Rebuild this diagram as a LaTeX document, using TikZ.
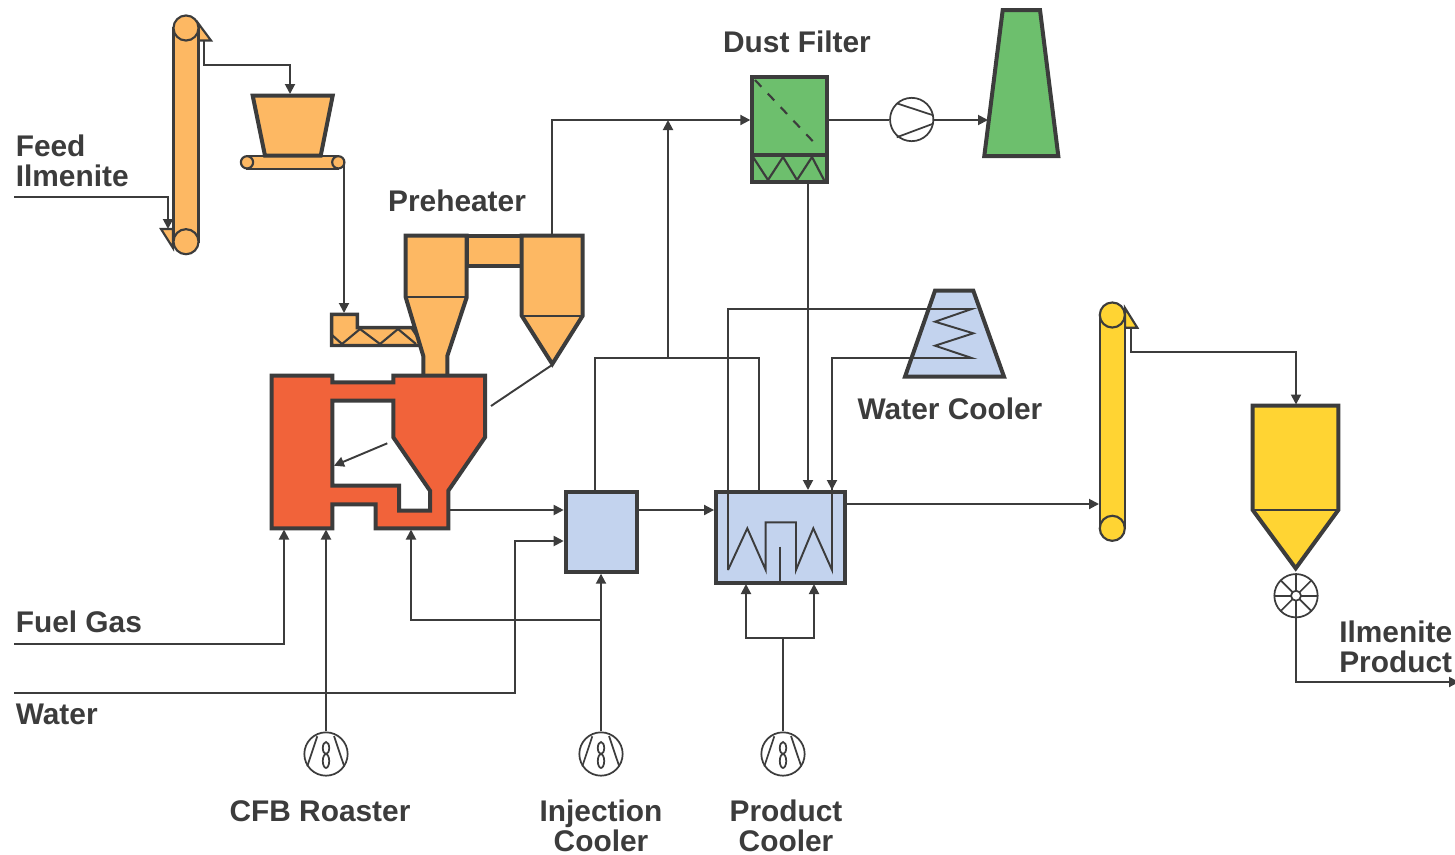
\documentclass[tikz,border=0pt]{standalone}
\usepackage{fontspec}
\setmainfont{Liberation Sans}
\usetikzlibrary{arrows.meta}
\definecolor{inkgray}{HTML}{3C3C3C}
\definecolor{oreorange}{HTML}{FDB863}
\definecolor{roastred}{HTML}{F1633A}
\definecolor{filtergreen}{HTML}{6DBF6D}
\definecolor{coolblue}{HTML}{C3D3EE}
\definecolor{productyellow}{HTML}{FFD433}
\begin{document}
\begin{tikzpicture}[x=0.75pt,y=-0.75pt,
    flowline/.style={draw=inkgray, line width=1.45pt},
    flowarrow/.style={flowline, -{Triangle[length=7.5pt,width=7.5pt]}},
    vessel/.style={draw=inkgray, line width=3pt, line join=miter},
    belt/.style={draw=inkgray, line width=1.6pt},
    fanring/.style={circle, draw=inkgray, fill=white, line width=1.3pt, minimum size=32.5pt, inner sep=0pt},
    tag/.style={font=\fontsize{22.4}{22.5}\selectfont\bfseries, text=inkgray, inner sep=0pt}
]
    \useasboundingbox (0,0) rectangle (1455,854);
    % Left elevator and feed bin
    \filldraw[belt, fill=oreorange] (198,23) -- (211,40.5) -- (198,40.5) -- cycle;
    \filldraw[belt, fill=oreorange] (161,229) -- (173,229) -- (173,248) -- cycle;
    \filldraw[belt, fill=oreorange] (173.5,28) rectangle (198.5,241.7);
    \filldraw[belt, fill=oreorange] (186,28) circle[radius=9.4pt];
    \filldraw[belt, fill=oreorange] (186,241.7) circle[radius=9.4pt];
    \filldraw[belt, fill=oreorange] (247,156) rectangle (338.3,168.7);
    \filldraw[belt, fill=oreorange] (247,162.3) circle[radius=4.6pt];
    \filldraw[belt, fill=oreorange] (338.3,162.3) circle[radius=4.6pt];
    \filldraw[vessel, fill=oreorange] (252.7,95.7) -- (332.7,95.7) -- (320.7,155.7) -- (265,155.7) -- cycle;
    % Screw feeder
    \filldraw[vessel, fill=oreorange, line width=2.6pt] (331.7,314.3) -- (357.3,314.3) -- (357.3,327.7) -- (412,327.7) -- (424,345.5) -- (331.7,345.5) -- cycle;
    \draw[belt] (332,335) -- (342,344) -- (360,329) -- (380,344) -- (398,329) -- (416,344);
    % Preheater cyclones
    \filldraw[vessel, fill=oreorange] (466.7,235.7) -- (521.7,235.7) -- (521.7,265.7) -- (466.7,265.7) -- cycle;
    \filldraw[vessel, fill=oreorange] (405.7,235.7) -- (466.7,235.7) -- (466.7,297.3) -- (447.3,356) -- (447.3,376) -- (423.3,376) -- (423.3,356) -- (405.7,297.3) -- cycle;
    \filldraw[vessel, fill=oreorange] (521.7,235.7) -- (582.7,235.7) -- (582.7,315.7) -- (552.3,364) -- (521.7,315.7) -- cycle;
    \draw[belt] (405.7,297.3) -- (466.7,297.3);
    \draw[belt] (521.7,315.7) -- (582.7,315.7);
    % CFB roaster, with the open space cut out
    \filldraw[vessel, fill=roastred, even odd rule] (271.7,375.7) -- (332.3,375.7) -- (332.3,382.3) -- (393.3,382.3) -- (393.3,375.7) -- (485,375.7) -- (485,437.3) -- (448.3,490.7) -- (448.3,528.3) -- (375.7,528.3) -- (375.7,504.3) -- (332.3,504.3) -- (332.3,528.3) -- (271.7,528.3) -- cycle
        (332.3,400.7) -- (393.3,400.7) -- (393.3,437.3) -- (430,490.7) -- (430,510.7) -- (399,510.7) -- (399,485.7) -- (332.3,485.7) -- cycle;
    % Dust filter, blower and stack
    \node[vessel, fill=filtergreen, minimum width=55.8pt, minimum height=78.8pt, inner sep=0pt] (filterbox) at (789.5,129.2) {};
    \draw[vessel] (752.3,155) -- (826.7,155);
    \draw[belt] (753,157) -- (768,180) -- (783,157) -- (797,180) -- (812,157) -- (824,180);
    \draw[inkgray, line width=1.6pt, dash pattern=on 7pt off 7pt] (755,80) -- (818,146.7);
    \filldraw[vessel, fill=filtergreen] (1002.7,10) -- (1040,10) -- (1058.3,156) -- (984.3,156) -- cycle;
    \node[fanring] (blower) at (911.7,119.5) {};
    \draw[inkgray, line width=1.3pt] (896.7,103.3) -- (932.3,115) (896.7,137.3) -- (932.3,124);
    % Coolers
    \node[vessel, fill=coolblue, minimum width=53.7pt, minimum height=60pt, inner sep=0pt] (injectbox) at (601.5,531.7) {};
    \node[vessel, fill=coolblue, minimum width=96.5pt, minimum height=68.7pt, inner sep=0pt] (coolerbox) at (780.4,537.5) {};
    \filldraw[vessel, fill=coolblue] (935,290.7) -- (973.3,290.7) -- (1004,376.7) -- (905,376.7) -- cycle;
    % Right elevator, silo and discharge wheel
    \filldraw[belt, fill=productyellow] (1125,308) -- (1137.3,327.7) -- (1125,327.7) -- cycle;
    \filldraw[belt, fill=productyellow] (1100,315) rectangle (1125,528.3);
    \filldraw[belt, fill=productyellow] (1112.3,315) circle[radius=9.4pt];
    \filldraw[belt, fill=productyellow] (1112.3,528.3) circle[radius=9.4pt];
    \filldraw[vessel, fill=productyellow] (1252.7,405.7) -- (1338.3,405.7) -- (1338.3,510) -- (1295.7,568.3) -- (1252.7,510) -- cycle;
    \draw[belt] (1252.7,510) -- (1338.3,510);
    \node[fanring] (wheel) at (1296,595.7) {};
    \begin{scope}[shift={(wheel.center)}]
        \foreach \a in {0,45,...,315} {
            \draw[inkgray, line width=1.3pt] (\a:3.75pt) -- (\a:16.2pt);
        }
        \draw[inkgray, line width=1.3pt] (0,0) circle[radius=3.75pt];
    \end{scope}
    % Air fans
    \node[fanring] (roasterfan) at (326,754) {};
    \node[fanring] (injectfan) at (601,754) {};
    \node[fanring] (productfan) at (783,754) {};
    \foreach \fan in {roasterfan,injectfan,productfan} {
        \begin{scope}[shift={(\fan.center)}]
            \draw[inkgray, line width=1.3pt] (-8.7,-17.7) -- (-18.7,12.3) (8,-18) -- (18,11.7);
            \draw[inkgray, line width=1.3pt] (0,-6) ellipse[x radius=2.4pt, y radius=4.5pt];
            \draw[inkgray, line width=1.3pt] (0,7) ellipse[x radius=2.4pt, y radius=5.2pt];
        \end{scope}
    }
    % Connector end points
    \coordinate (feedin) at (14,197);
    \coordinate (feedchute) at (168,229);
    \coordinate (liftout) at (204,40.5);
    \coordinate (bintop) at (290,94);
    \coordinate (beltout) at (344,162);
    \coordinate (screwtop) at (344,313);
    \coordinate (cycloneout) at (552,234);
    \coordinate (gasline) at (552,120);
    \coordinate (returnup) at (668,358);
    \coordinate (returnmid) at (668,120);
    \coordinate (filterout) at (826.7,120);
    \coordinate (stackin) at (988,120);
    \coordinate (filterdrop) at (808,182);
    \coordinate (dropin) at (808,490);
    \coordinate (injectup) at (595,491);
    \coordinate (coolerup) at (759,491);
    \coordinate (coilstart) at (728,570);
    \coordinate (coilcorner) at (728,309);
    \coordinate (coilback) at (971.7,358);
    \coordinate (coilin) at (832,490);
    \coordinate (solidsout) at (491,406);
    \coordinate (solidsin) at (552,365);
    \coordinate (loopstart) at (387.3,443.3);
    \coordinate (loopend) at (334,465.7);
    \coordinate (roasterout) at (449,510);
    \coordinate (injectout) at (638,510);
    \coordinate (waterin) at (14,693);
    \coordinate (waterbend) at (515,541);
    \coordinate (fuelin) at (14,644);
    \coordinate (fuelend) at (284,529.5);
    \coordinate (roasterair) at (326,529.5);
    \coordinate (branchair) at (601,620);
    \coordinate (branchend) at (411,529.5);
    \coordinate (splitair) at (783,638);
    \coordinate (leftair) at (746,584);
    \coordinate (rightair) at (814,584);
    \coordinate (productout) at (845,504);
    \coordinate (liftin) at (1099,504);
    \coordinate (liftouttwo) at (1131,327.7);
    \coordinate (silotop) at (1296,404.5);
    \coordinate (productend) at (1459,682);
    % Connectors
    \draw[flowarrow] (feedin) -| (feedchute);
    \draw[flowarrow] (liftout) |- (290,65) -- (bintop);
    \draw[flowarrow] (beltout) -- (screwtop);
    \draw[flowarrow] (cycloneout) |- (gasline -| filterbox.west);
    \draw[flowarrow] (returnup) -- (returnmid);
    \draw[flowline] (injectup) |- (returnup) -| (coolerup);
    \draw[flowline] (filterout) -- (filterout -| blower.west);
    \draw[flowarrow] (filterout -| blower.east) -- (stackin);
    \draw[flowarrow] (filterdrop) -- (dropin);
    \draw[flowline] (solidsout) -- (solidsin);
    \draw[flowarrow] (loopstart) -- (loopend);
    \draw[flowarrow] (roasterout) -- (roasterout -| injectbox.west);
    \draw[flowarrow] (injectout) -- (injectout -| coolerbox.west);
    \draw[flowarrow] (waterin) -| (waterbend) -- (waterbend -| injectbox.west);
    \draw[flowarrow] (fuelin) -| (fuelend);
    \draw[flowarrow] (roasterfan.north) -- (roasterair);
    \draw[flowarrow] (injectfan.north) -- (injectbox.south -| injectfan.north);
    \draw[flowarrow] (branchair) -| (branchend);
    \draw[flowline] (productfan.north) -- (splitair);
    \draw[flowarrow] (splitair) -| (leftair);
    \draw[flowarrow] (splitair) -| (rightair);
    \draw[flowarrow] (productout) -- (liftin);
    \draw[flowarrow] (liftouttwo) |- (1296,352) -- (silotop);
    \draw[flowarrow] (wheel.south) |- (productend);
    % Cooling coil, from the box up to the water cooler and back
    \draw[flowline, line join=miter] (coilstart) -- (coilcorner) -- (971.7,309) -- (935,321.7) -- (973.3,333.3) -- (935,345.7) -- (coilback) -- (832,358) -- (832,570) -- (813.3,528.3) -- (796,570) -- (796,522.3) -- (765.7,522.3) -- (765.7,570) -- (747.3,528.3) -- (coilstart);
    \draw[flowarrow] (832,440) -- (coilin);
    \draw[flowline, line width=1.8pt] (780,546.7) -- (780,581.7);
    % Labels
    \node[tag, anchor=west, align=left] (feedtag) at (15.5,161) {Feed\\Ilmenite};
    \node[tag] (preheatertag) at (457,201) {Preheater};
    \node[tag] (filtertag) at (797,42) {Dust Filter};
    \node[tag] (watercoolertag) at (950,408.5) {Water Cooler};
    \node[tag, anchor=west] (fueltag) at (15.5,622) {Fuel Gas};
    \node[tag, anchor=west] (watertag) at (15.5,714) {Water};
    \node[tag] (roastertag) at (320,811) {CFB Roaster};
    \node[tag, align=center] (injecttag) at (601,825.5) {Injection\\Cooler};
    \node[tag, align=center] (producttag) at (786,825.5) {Product\\Cooler};
    \node[tag, anchor=west, align=left] (ilmenitetag) at (1339,647) {Ilmenite\\Product};
\end{tikzpicture}
\end{document}
